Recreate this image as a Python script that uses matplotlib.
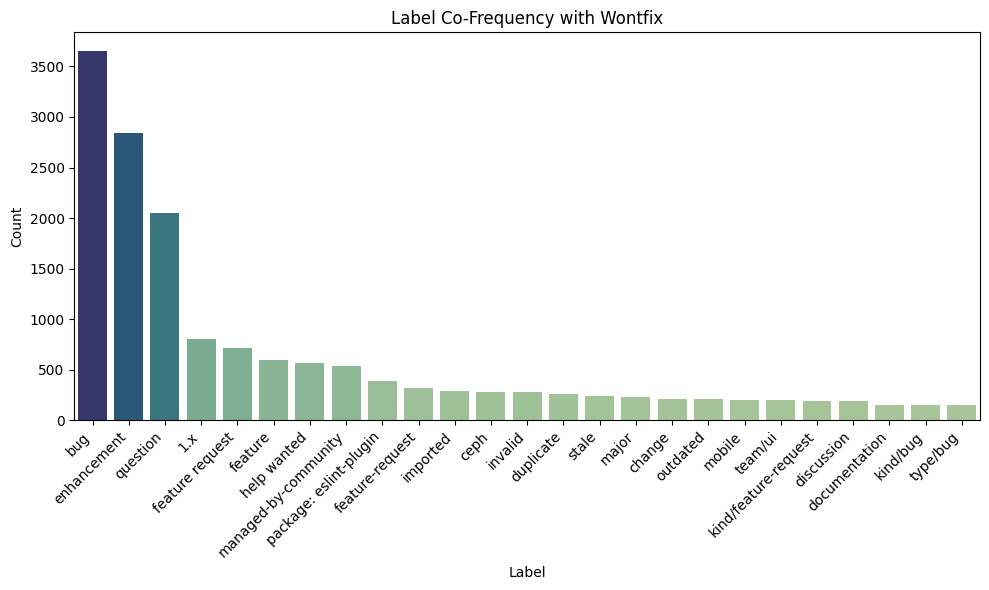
import matplotlib

matplotlib.use("Agg")
import matplotlib.pyplot as plt
import pandas as pd
import seaborn as sns

labels = [
    "bug", "enhancement", "question", "1.x", "feature request", "feature",
    "help wanted", "managed-by-community", "package: eslint-plugin",
    "feature-request", "imported", "ceph", "invalid", "duplicate", "stale",
    "major", "change", "outdated", "mobile", "team/ui",
    "kind/feature-request", "discussion", "documentation", "kind/bug",
    "type/bug",
]
counts = [
    3655, 2845, 2052, 803, 713, 595, 565, 535, 386, 317, 287, 278, 277,
    258, 238, 228, 208, 207, 198, 197, 188, 187, 150, 149, 148,
]

df = pd.DataFrame({"Label": labels, "Count": counts})

fig, ax = plt.subplots(figsize=(10, 6), dpi=100)
sns.barplot(data=df, x="Label", y="Count", hue="Count", palette="crest",
            legend=False, ax=ax)
ax.set_title("Label Co-Frequency with Wontfix")
ax.set_xlabel("Label")
ax.set_ylabel("Count")
plt.setp(ax.get_xticklabels(), rotation=45, ha="right")
fig.tight_layout()
fig.savefig("out.png", dpi=100, bbox_inches="tight")
